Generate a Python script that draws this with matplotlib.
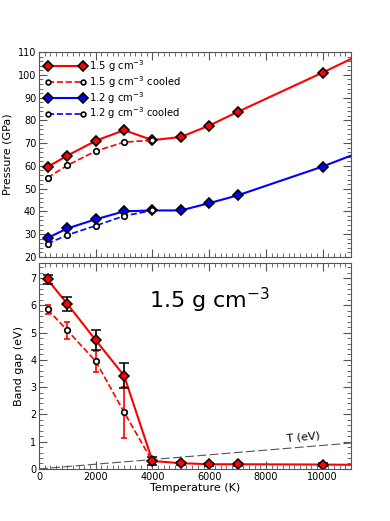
import numpy as np
import matplotlib.pyplot as plt
from matplotlib.ticker import MultipleLocator

# Temperaturas (K)
temps = [300, 1000, 2000, 3000, 4000, 5000, 6000, 7000, 10000, 11000]
temps_cooled = [300, 1000, 2000, 3000, 4000]

# Presión (GPa)
p15 = [59.5, 64.5, 71.0, 75.7, 71.3, 72.7, 77.7, 83.7, 101.0, 107.0]
p15_cooled = [54.8, 60.2, 66.5, 70.4, 71.3]
p12 = [28.3, 32.5, 36.5, 40.0, 40.4, 40.4, 43.6, 47.0, 59.7, 64.5]
p12_cooled = [25.8, 29.6, 33.7, 38.0, 40.4]

# Band gap (eV) a 1.5 g/cm3
gap = [6.95, 6.05, 4.72, 3.42, 0.29, 0.21, 0.17, 0.17, 0.16, 0.15]
gap_err = [0.16, 0.26, 0.37, 0.47, 0.14, 0.06, 0.05, 0.05, 0.05, 0.0]
gap_cooled = [5.85, 5.08, 3.95, 2.08, 0.27]
gap_cooled_err = [0.15, 0.31, 0.38, 0.93, 0.0]

kB = 8.617e-5  # eV/K
t_line = np.array([0, 11000])

fig = plt.figure(figsize=(3.9, 5.21), dpi=100)
ax1 = fig.add_axes([0.1, 0.507, 0.8, 0.393])
ax2 = fig.add_axes([0.1, 0.1, 0.8, 0.395])

nmk = len(temps) - 1
ax1.plot(temps, p15, '-', color='red', lw=1.5, marker='D', ms=5.5, mfc='red',
         mec='black', mew=1.2, markevery=list(range(nmk)), label='1.5 g cm$^{-3}$')
ax1.plot(temps_cooled, p15_cooled, '--', color='red', lw=1.2, marker='o', ms=4,
         mfc='white', mec='black', mew=1.2, label='1.5 g cm$^{-3}$ cooled')
ax1.plot(temps, p12, '-', color='blue', lw=1.5, marker='D', ms=5.5, mfc='blue',
         mec='black', mew=1.2, markevery=list(range(nmk)), label='1.2 g cm$^{-3}$')
ax1.plot(temps_cooled, p12_cooled, '--', color='blue', lw=1.2, marker='o', ms=4,
         mfc='white', mec='black', mew=1.2, label='1.2 g cm$^{-3}$ cooled')
ax1.set_xlim(0, 11000)
ax1.set_ylim(20, 110)
ax1.set_ylabel('Pressure (GPa)', fontsize=8)
ax1.yaxis.set_major_locator(MultipleLocator(10))
ax1.yaxis.set_minor_locator(MultipleLocator(2))
ax1.tick_params(labelbottom=False)
ax1.legend(loc='upper left', frameon=False, fontsize=7.2, numpoints=2,
           handlelength=4.1, borderaxespad=0.3, borderpad=0.3,
           labelspacing=0.0, handletextpad=0.3, markerscale=0.85)

ax2.plot(t_line, kB * t_line, color='#555555', lw=0.8, dashes=(8, 3))
ax2.text(8700, 1.02, 'T (eV)', fontsize=8, rotation=5)
ax2.errorbar(temps_cooled, gap_cooled, yerr=gap_cooled_err, fmt='--o', color='red',
             ecolor='red', lw=1.2, elinewidth=1.2, capsize=2, ms=4, mfc='white',
             mec='black', mew=1.2)
ax2.errorbar(temps[:nmk], gap[:nmk], yerr=gap_err[:nmk], fmt='D', color='red',
             ecolor='black', elinewidth=1.2, capsize=3.5, capthick=1.2, ms=5,
             mfc='red', mec='black', mew=1.1)
ax2.plot(temps, gap, '-', color='red', lw=1.5, zorder=1.5)
ax2.text(6000, 6.2, '1.5 g cm$^{-3}$', fontsize=16, ha='center', va='center')
ax2.set_xlim(0, 11000)
ax2.set_ylim(0, 7.55)
ax2.set_ylabel('Band gap (eV)', fontsize=8)
ax2.set_xlabel('Temperature (K)', fontsize=8, labelpad=1)
ax2.yaxis.set_major_locator(MultipleLocator(1))
ax2.yaxis.set_minor_locator(MultipleLocator(0.2))

for ax in (ax1, ax2):
    ax.xaxis.set_major_locator(MultipleLocator(2000))
    ax.xaxis.set_minor_locator(MultipleLocator(200))
    ax.tick_params(which='both', direction='in', top=True, right=True,
                   labelsize=7, pad=2, color='#555555')
    ax.tick_params(which='major', length=6)
    ax.tick_params(which='minor', length=3)
    for s in ax.spines.values():
        s.set_color('#555555')

fig.savefig('out.png', dpi=100)
